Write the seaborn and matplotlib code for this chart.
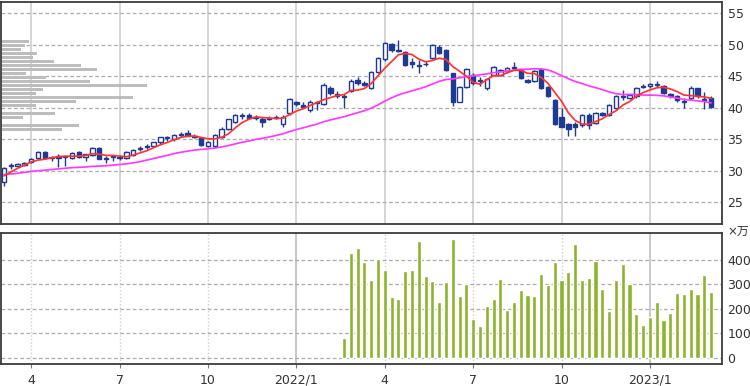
import numpy as np
import pandas as pd
import matplotlib
matplotlib.use("Agg")
import matplotlib.pyplot as plt
import seaborn as sns

# ---------------- data (weekly) ----------------
week_start = "2021-03-01"          # Monday of first weekly candle
n_weeks = 105

opens = [28.2, 30.7, 30.8, 30.9, 31.4, 32.0, 33.0, 32.1, 32.4, 32.2,
         32.1, 33.0, 32.2, 32.5, 33.6, 32.0, 32.3, 32.0, 32.1, 32.5,
         33.5, 33.8, 33.9, 34.5, 35.2, 35.0, 35.7, 36.0, 35.6, 35.2,
         34.0, 34.0, 35.3, 36.7, 37.8, 38.7, 38.9, 38.4, 38.3, 38.3,
         38.6, 37.5, 39.1, 40.9, 40.5, 39.6, 40.8, 40.6, 43.2, 42.2,
         41.9, 42.7, 44.4, 43.9, 43.2, 45.7, 47.7, 50.1, 49.0, 48.9,
         47.2, 46.8, 46.9, 47.9, 49.6, 49.2, 45.5, 41.0, 43.3, 45.2,
         44.3, 43.1, 45.2, 45.2, 45.8, 46.3, 46.0, 44.4, 44.3, 46.2,
         43.3, 41.2, 38.6, 37.4, 37.4, 37.3, 38.8, 37.6, 39.1, 38.9,
         40.0, 41.7, 41.6, 41.8, 43.3, 43.4, 43.6, 43.5, 42.2, 41.8,
         41.1, 41.5, 43.1, 41.3, 41.5]
highs = [30.6, 31.3, 31.3, 31.4, 32.1, 33.1, 33.2, 32.4, 32.6, 32.4,
         33.0, 33.2, 32.7, 33.8, 33.8, 32.3, 32.5, 32.5, 33.2, 33.5,
         34.0, 34.3, 34.6, 35.4, 35.6, 35.9, 36.1, 36.4, 35.8, 35.3,
         34.7, 35.9, 36.9, 38.3, 39.0, 39.2, 39.1, 38.8, 38.5, 38.7,
         38.8, 38.8, 41.6, 41.1, 40.9, 41.3, 41.1, 43.9, 43.4, 42.6,
         42.2, 44.5, 44.9, 44.2, 45.9, 48.1, 50.5, 50.3, 50.8, 49.0,
         47.9, 47.6, 47.5, 50.2, 49.9, 49.4, 45.6, 43.5, 46.3, 45.6,
         44.9, 44.8, 46.6, 46.2, 46.5, 47.2, 46.2, 44.6, 46.0, 46.3,
         43.5, 41.4, 40.0, 37.6, 37.7, 39.0, 39.2, 39.3, 39.3, 40.6,
         42.0, 42.8, 42.2, 43.3, 43.8, 44.0, 44.2, 43.6, 42.4, 42.0,
         41.5, 43.4, 43.2, 42.5, 41.8]
lows = [27.6, 30.3, 30.6, 30.7, 31.2, 31.8, 31.9, 31.6, 30.6, 30.7,
        31.9, 32.0, 31.5, 32.3, 31.8, 31.3, 31.6, 31.7, 31.9, 32.3,
        33.2, 33.5, 33.7, 34.3, 34.8, 34.8, 35.4, 35.5, 35.2, 34.0,
        33.8, 33.6, 35.2, 36.5, 37.6, 38.3, 38.2, 38.0, 37.0, 38.0,
        38.2, 37.0, 38.9, 40.3, 40.0, 39.4, 39.6, 40.4, 42.0, 41.6,
        40.0, 42.5, 43.6, 43.4, 43.0, 45.5, 47.5, 48.9, 48.8, 46.6,
        46.3, 45.6, 46.6, 47.7, 48.5, 45.8, 40.3, 40.9, 43.1, 43.7,
        43.4, 42.9, 45.0, 45.0, 45.5, 46.0, 44.6, 43.9, 44.1, 43.0,
        41.7, 37.3, 36.9, 35.5, 35.6, 37.0, 36.6, 37.4, 38.7, 38.7,
        39.8, 41.3, 41.4, 41.6, 43.1, 43.2, 43.3, 42.2, 41.6, 40.9,
        40.0, 41.3, 41.6, 39.8, 40.0]
closes = [30.4, 30.9, 31.1, 31.2, 31.9, 33.0, 32.0, 32.2, 32.1, 32.3,
          32.9, 32.2, 32.6, 33.6, 31.9, 31.9, 32.2, 32.1, 33.0, 33.3,
          33.6, 33.9, 34.5, 35.3, 35.2, 35.7, 35.8, 35.5, 35.4, 34.1,
          34.6, 35.7, 36.7, 38.2, 38.8, 38.8, 38.4, 38.5, 37.8, 38.4,
          38.4, 38.6, 41.4, 40.6, 40.2, 41.0, 40.9, 43.7, 42.3, 41.8,
          41.7, 44.3, 43.9, 43.6, 45.7, 47.9, 50.3, 49.2, 49.0, 46.8,
          47.0, 46.7, 47.0, 50.0, 48.7, 46.0, 41.0, 43.3, 46.1, 43.9,
          44.4, 44.6, 46.5, 46.0, 46.3, 46.3, 44.7, 44.1, 45.8, 43.1,
          41.8, 37.5, 37.0, 36.7, 37.0, 38.9, 37.3, 39.2, 38.9, 40.4,
          41.8, 41.8, 42.0, 43.1, 43.4, 43.8, 43.6, 42.4, 41.8, 41.3,
          41.0, 43.2, 41.8, 41.3, 40.2]

ma_short = [29.2, 29.8, 30.4, 30.9, 31.4, 31.7, 31.84, 32.06, 32.24, 32.32,
            32.30, 32.34, 32.42, 32.72, 32.64, 32.44, 32.44, 32.34, 32.22, 32.50,
            32.84, 33.18, 33.66, 34.12, 34.50, 34.92, 35.30, 35.50, 35.52, 35.30,
            35.08, 35.06, 35.30, 35.86, 36.80, 37.64, 38.18, 38.54, 38.46, 38.38,
            38.30, 38.34, 38.92, 39.48, 39.84, 40.36, 40.82, 41.28, 41.62, 41.94,
            42.08, 42.76, 42.80, 43.06, 43.84, 45.08, 46.28, 47.34, 48.42, 48.64,
            48.46, 47.74, 47.30, 47.50, 47.88, 47.68, 46.54, 45.80, 45.02, 44.06,
            43.74, 44.46, 45.10, 45.08, 45.56, 45.94, 45.96, 45.48, 45.44, 44.80,
            43.90, 42.46, 41.04, 39.22, 38.00, 37.42, 37.38, 37.82, 38.26, 38.94,
            39.52, 40.42, 40.98, 41.82, 42.42, 42.82, 43.18, 43.26, 43.00, 42.58,
            42.02, 41.94, 41.82, 41.72, 41.50]
ma_long = [29.4, 29.5, 29.6, 29.75, 29.9, 30.0, 30.1, 30.2, 30.3, 30.4,
           30.5, 30.55, 30.6, 30.7, 30.75, 30.8, 30.9, 31.0, 31.1, 31.25,
           31.45, 31.7, 31.95, 32.2, 32.45, 32.73, 32.94, 33.12, 33.28, 33.39,
           33.50, 33.60, 33.78, 34.01, 34.27, 34.52, 34.73, 34.97, 35.17, 35.36,
           35.61, 35.87, 36.22, 36.55, 36.82, 37.12, 37.40, 37.78, 38.08, 38.33,
           38.58, 38.91, 39.22, 39.53, 39.93, 40.46, 41.06, 41.58, 42.05, 42.38,
           42.70, 43.00, 43.33, 43.78, 44.20, 44.49, 44.59, 44.77, 44.95, 45.08,
           45.24, 45.38, 45.59, 45.68, 45.83, 46.01, 46.12, 46.12, 46.19, 46.17,
           46.02, 45.62, 45.11, 44.63, 44.17, 43.86, 43.49, 43.20, 42.89, 42.52,
           42.25, 42.09, 42.13, 42.12, 42.02, 42.02, 41.98, 41.90, 41.72, 41.54,
           41.33, 41.22, 41.10, 41.00, 40.78]

# weekly volume (x 10,000 shares); no volume before mid-Feb 2022
volume = [np.nan] * 50 + [
    79, 429, 449, 390, 319, 405, 360, 248, 242, 353,
    360, 477, 333, 312, 227, 310, 484, 251, 301, 159,
    130, 210, 238, 322, 193, 227, 275, 255, 253, 342,
    296, 392, 316, 351, 466, 316, 326, 395, 281, 189,
    319, 385, 301, 178, 134, 168, 227, 155, 182, 264,
    262, 281, 260, 340, 270]

# price-by-volume profile (relative volume per price band)
profile_price = [50.5, 49.9, 49.25, 48.6, 48.0, 47.35, 46.7, 46.1, 45.45, 44.8,
                 44.15, 43.55, 42.9, 42.25, 41.65, 41.0, 40.35, 39.75, 39.1, 38.45,
                 37.85, 37.2, 36.55]
profile_volume = [27, 23, 19, 35, 31, 52, 79, 95, 24, 44,
                  88, 145, 41, 34, 131, 74, 34, 0, 53, 21,
                  0, 77, 60]

tick_months = ["2021-04-01", "2021-07-01", "2021-10-01", "2022-01-01",
               "2022-04-01", "2022-07-01", "2022-10-01", "2023-01-01"]
tick_labels = ["4", "7", "10", "2022/1", "4", "7", "10", "2023/1"]
price_ticks = [25, 30, 35, 40, 45, 50, 55]
volume_ticks = [0, 100, 200, 300, 400]

# ---------------- styling ----------------
NAVY = "#1f3a93"
RED = "#ff3535"
MAGENTA = "#ff3cff"
GREEN = "#8cb42c"
PROFILE = "#bdbdbd"
GRID = "#ababab"
VGRID = "#d2d2d2"
SPINE = "#3c3c3c"
TXT = "#333333"

sns.set_theme(style="white")
plt.rcParams["font.family"] = ["DejaVu Sans", "Noto Sans CJK JP"]

weeks = pd.date_range(week_start, periods=n_weeks, freq="W-MON")
x = np.arange(n_weeks)
tick_idx = [int(np.searchsorted(weeks, pd.Timestamp(m), side="right") - 1)
            for m in tick_months]

df = pd.DataFrame({"x": x, "open": opens, "high": highs, "low": lows,
                   "close": closes, "ma_short": ma_short, "ma_long": ma_long,
                   "volume": volume})

W, H = 750, 386
fig = plt.figure(figsize=(W / 100, H / 100), dpi=100)
ax = fig.add_axes([1 / W, 1 - 224 / H, 721 / W, 222 / H])
axv = fig.add_axes([1 / W, 1 - 364 / H, 721 / W, 131 / H])

xlim = (-0.44, 105.6)

# ---- price panel ----
ax.set_xlim(*xlim)
ax.set_ylim(21.55, 56.8)
ax.set_axisbelow(True)
ax.set_yticks(price_ticks)
ax.yaxis.grid(True, ls=(0, (3, 2)), color=GRID, lw=0.9)
ax.set_xticks(tick_idx)
ax.xaxis.grid(True, ls="-", color=VGRID, lw=1.3)
ax.tick_params(axis="x", labelbottom=False, length=0)
ax.yaxis.tick_right()
ax.tick_params(axis="y", length=0, pad=4, labelsize=9, labelcolor=TXT)

# price-by-volume profile on a twin x-scale
axp = ax.twiny()
axp.barh(profile_price, profile_volume, height=0.38, color=PROFILE,
         linewidth=0, zorder=1)
axp.set_xlim(-0.8, max(profile_volume) / 0.201)
axp.set_xticks([])
axp.tick_params(axis="both", which="both", length=0, left=False, right=False,
                top=False, bottom=False, labelleft=False, labeltop=False)
for s in axp.spines.values():
    s.set_visible(False)

# candles
up = df["close"] >= df["open"]
ax.vlines(df["x"], df["low"], df["high"], color=NAVY, lw=1.0, zorder=3)
body_lo = np.minimum(df["open"], df["close"])
body_h = np.maximum(np.abs(df["close"] - df["open"]), 0.12)
ax.bar(df["x"][up], body_h[up], bottom=body_lo[up], width=0.64,
       facecolor="white", edgecolor=NAVY, lw=1.0, zorder=4)
ax.bar(df["x"][~up], body_h[~up], bottom=body_lo[~up], width=0.64,
       facecolor=NAVY, edgecolor=NAVY, lw=1.0, zorder=4)

sns.lineplot(data=df, x="x", y="ma_long", color=MAGENTA, lw=1.25, ax=ax, zorder=5)
sns.lineplot(data=df, x="x", y="ma_short", color=RED, lw=1.25, ax=ax, zorder=6)
ax.set_xlabel("")
ax.set_ylabel("")
ax.set_xlim(*xlim)

for s in ax.spines.values():
    s.set_color(SPINE)
    s.set_linewidth(1.3)

# ---- volume panel ----
axv.set_axisbelow(True)
sns.barplot(data=df.dropna(subset=["volume"]), x="x", y="volume",
            native_scale=True, color=GREEN, saturation=1, width=0.6,
            errorbar=None, ax=axv, zorder=3)
axv.set_xlim(*xlim)
axv.set_ylim(-26, 510)
axv.set_yticks(volume_ticks)
axv.yaxis.grid(True, ls=(0, (3, 2)), color=GRID, lw=0.9)
for ti, lab in zip(tick_idx, tick_labels):
    if "/" in lab:
        axv.axvline(ti, color="#c4c4c4", lw=1.3, zorder=0)
    else:
        axv.axvline(ti, color="#cfcfcf", lw=1.0, ls=(0, (1, 1.5)), zorder=0)
axv.set_xticks(tick_idx)
axv.set_xticklabels(tick_labels)
axv.tick_params(axis="x", length=3, width=0.8, color="#777777", pad=4,
                labelsize=9, labelcolor=TXT, bottom=True)
axv.yaxis.tick_right()
axv.tick_params(axis="y", length=0, pad=4, labelsize=9, labelcolor=TXT)
axv.set_xlabel("")
axv.set_ylabel("")
axv.text(1.007, 1.01, "×万", transform=axv.transAxes, ha="left", va="center",
         fontsize=8.5, color=TXT)
for s in axv.spines.values():
    s.set_color(SPINE)
    s.set_linewidth(1.3)

fig.savefig("out.png", dpi=100, facecolor="white")
